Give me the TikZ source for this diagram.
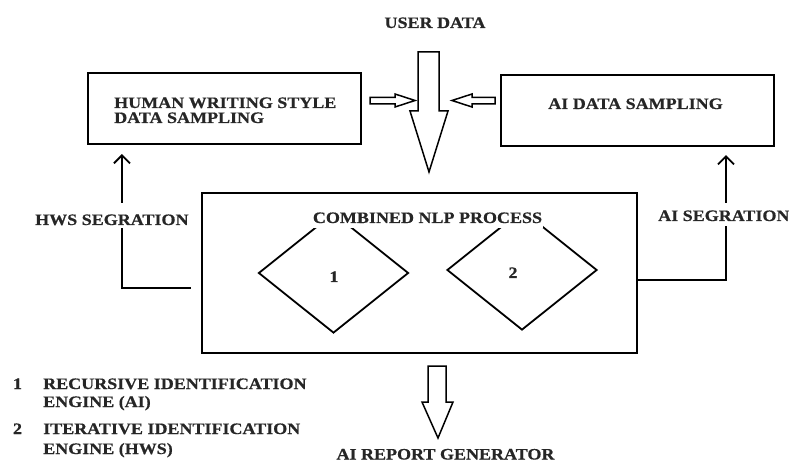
\documentclass[tikz,border=0pt]{standalone}
\usepackage{fontspec}
\setmainfont{Liberation Serif}[FakeStretch=1.13, BoldFeatures={FakeBold=0.6}]
\usetikzlibrary{arrows.meta,shapes.geometric,calc}
\begin{document}
\begin{tikzpicture}[x=1bp,y=-1bp,
  txt/.style={font=\fontsize{16}{15}\selectfont\bfseries, inner sep=0pt, text=black!85},
  box/.style={draw, line width=2.2bp, inner sep=0pt},
  blockarrow/.style={draw, line width=1.5bp, line join=miter, fill=white},
  seg/.style={line width=2bp, -{Straight Barb[length=8bp,width=16bp,line width=1.8bp]}},
  dia/.style={draw, diamond, line width=1.8bp, inner sep=0pt, minimum width=150bp, minimum height=120bp}]
\useasboundingbox (0,0) rectangle (789,463);

% boxes
\node[box, minimum width=273bp, minimum height=71bp] (hws) at (224.5,108.5) {};
\node[box, minimum width=273bp, minimum height=71bp] (aids) at (637.5,110.5) {};
\node[box, minimum width=435bp, minimum height=160bp] (main) at (419.5,273) {};

% box texts
\node[txt, anchor=base west] (hwst1) at (114,108) {HUMAN WRITING STYLE};
\node[txt, anchor=base west] (hwst2) at (114,123) {DATA SAMPLING};
\node[txt, anchor=base] (aidst) at (635.5,109) {AI DATA SAMPLING};
\node[txt, anchor=base] (user) at (435,28) {USER DATA};

% diamonds
\node[dia] (d1) at (333.5,273) {};
\node[dia] (d2) at (522,270) {};
\node[txt, anchor=base] (d1t) at (334,282) {1};
\node[txt, anchor=base] (d2t) at (513,278) {2};
\node[txt, anchor=base, fill=white, inner xsep=1bp, inner ysep=5bp] (nlp) at (427.5,223) {COMBINED NLP PROCESS};

% block arrows
\draw[blockarrow] (418,52) -- (439,52) -- (439,111) -- (448,111) -- (429,172) -- (410,111) -- (418,111) -- cycle;
\draw[blockarrow] (370,97.5) -- (395,97.5) -- (395,94) -- (415,100.5) -- (395,107) -- (395,104) -- (370,104) -- cycle;
\draw[blockarrow] (495,97.5) -- (472,97.5) -- (472,94) -- (452,100.5) -- (472,107) -- (472,104) -- (495,104) -- cycle;
\draw[blockarrow] (428,366) -- (446,366) -- (446,402) -- (453,402) -- (438,438) -- (422,402) -- (428,402) -- cycle;

% segregation connectors
\coordinate (hwsstart) at ($(main.west)+(-10,15)$);
\draw[seg] (hwsstart) -| ($(hws.south west)+(35,9)$);
\draw[seg] ($(main.east)+(0,7)$) -| ($(aids.south west)+(226,8)$);
\node[txt, anchor=base west, fill=white, text height=19bp, text depth=0bp, inner xsep=0bp, inner ysep=3bp] (hwsl) at (35,225) {HWS SEGRATION};
\node[txt, anchor=base west, fill=white, text height=15bp, text depth=2bp, inner xsep=0bp, inner ysep=3bp] (ail) at (658,221) {AI SEGRATION};

% report
\node[txt, anchor=base] (rep) at (445.5,459.5) {AI REPORT GENERATOR};

% legend
\node[txt, anchor=base] (l1) at (17.5,389) {1};
\node[txt, anchor=base west] (l1a) at (43,389) {RECURSIVE IDENTIFICATION};
\node[txt, anchor=base west] (l1b) at (43,407) {ENGINE (AI)};
\node[txt, anchor=base] (l2) at (17.5,434) {2};
\node[txt, anchor=base west] (l2a) at (43,434) {ITERATIVE IDENTIFICATION};
\node[txt, anchor=base west] (l2b) at (43,454) {ENGINE (HWS)};
\end{tikzpicture}
\end{document}
